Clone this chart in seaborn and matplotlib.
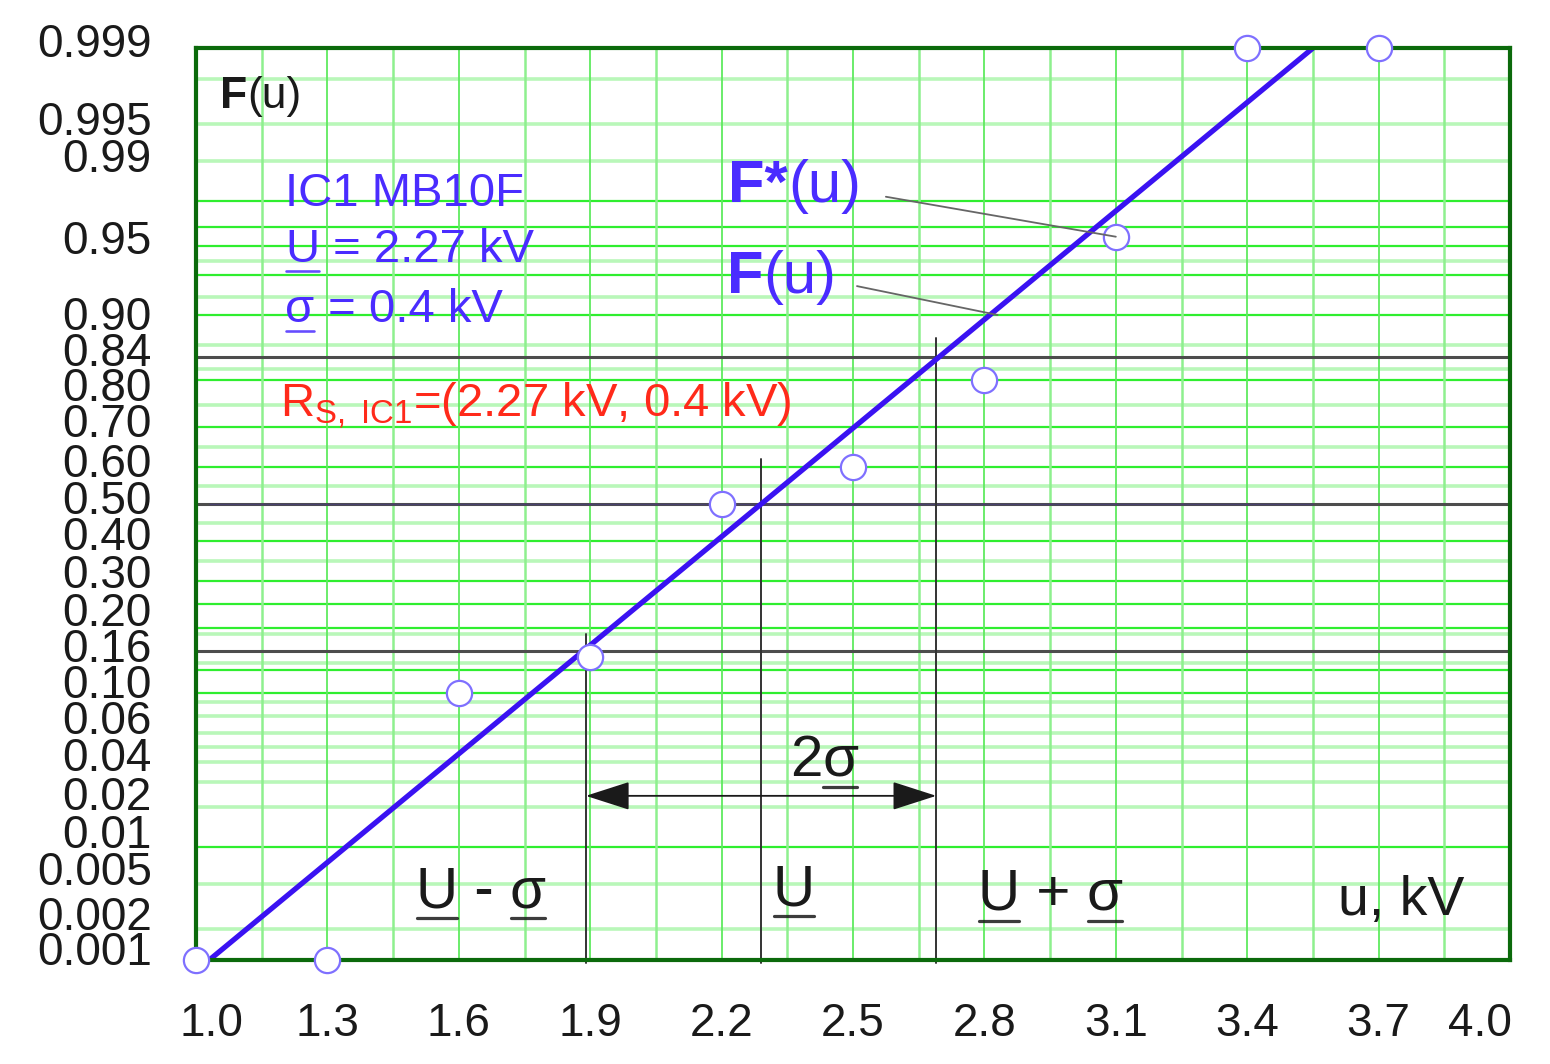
import numpy as np
import pandas as pd
import matplotlib
matplotlib.use("Agg")
import matplotlib.pyplot as plt
import matplotlib.transforms as mtransforms
from matplotlib.lines import Line2D
import seaborn as sns
from statistics import NormalDist

# measured breakdown voltages and empirical distribution F*(u)
u_data = [1.0, 1.3, 1.6, 1.9, 2.2, 2.5, 2.8, 3.1, 3.4, 3.7]
f_star = [0.001, 0.001, 0.10, 0.15, 0.50, 0.60, 0.80, 0.965, 0.999, 0.999]

# fitted normal distribution F(u), straight on probability paper
fit_u = [1.03, 3.55]
fit_p = [0.001, 0.999]

# U - sigma, U, U + sigma markers
mark_u = [1.89, 2.29, 2.69]
mark_top = [0.19, 0.62, 0.87]
ref_p = [0.16, 0.50, 0.84]

x_ticks = [1.0, 1.3, 1.6, 1.9, 2.2, 2.5, 2.8, 3.1, 3.4, 3.7, 4.0]
y_ticks = [0.001, 0.002, 0.005, 0.01, 0.02, 0.04, 0.06, 0.10, 0.16, 0.20, 0.30,
           0.40, 0.50, 0.60, 0.70, 0.80, 0.84, 0.90, 0.95, 0.99, 0.995, 0.999]
y_labels = ["0.001", "0.002", "0.005", "0.01", "0.02", "0.04", "0.06", "0.10",
            "0.16", "0.20", "0.30", "0.40", "0.50", "0.60", "0.70", "0.80",
            "0.84", "0.90", "0.95", "0.99", "0.995", "0.999"]
# the printed sheet stacks its labels a little off the true lines (pixels, + = up)
y_label_lift = [12, 16, 16, 16, 14, 8, 16, 12, 6, 19, 10,
                8, 7, 7, 7, -4, 8, 2, 24, 6, 6, 8]

# probability paper grid
grid_bright = [0.01, 0.10, 0.13, 0.20, 0.25, 0.30, 0.40, 0.60, 0.70, 0.80,
               0.90, 0.94, 0.96, 0.97, 0.98]
grid_pale = [0.002, 0.005, 0.02, 0.03, 0.04, 0.05, 0.06, 0.075, 0.09, 0.14,
             0.19, 0.35, 0.45, 0.55, 0.65, 0.75, 0.82, 0.86, 0.92, 0.95,
             0.99, 0.995, 0.998]
grid_u = np.arange(1.0, 4.001, 0.15)

_nd = NormalDist()


def probit(p):
    p = np.asarray(p, dtype=float)
    p = np.where(np.isfinite(p), p, 0.5)
    p = np.clip(p, 1e-9, 1 - 1e-9)
    return np.vectorize(_nd.inv_cdf, otypes=[float])(p)


def probit_inv(z):
    z = np.asarray(z, dtype=float)
    z = np.where(np.isfinite(z), z, 0.0)
    return np.vectorize(_nd.cdf, otypes=[float])(z)


sns.set_style("white")
plt.rcParams["font.family"] = ["Liberation Sans", "DejaVu Sans"]
plt.rcParams["mathtext.fontset"] = "custom"
plt.rcParams["mathtext.rm"] = "Liberation Sans"
plt.rcParams["mathtext.it"] = "Liberation Sans:italic"
plt.rcParams["mathtext.bf"] = "Liberation Sans:bold"

fig = plt.figure(figsize=(15.5, 10.64), dpi=100)
ax = fig.add_axes([0.1265, 0.0977, 0.8477, 0.8571])
ax.set_yscale("function", functions=(probit, probit_inv))
ax.set_xlim(1.0, 4.0)
ax.set_ylim(0.001, 0.999)

for p in grid_pale:
    ax.axhline(p, color="#b9f7b9", lw=2.6, zorder=0.5)
for p in grid_bright:
    ax.axhline(p, color="#2fee2f", lw=1.6, zorder=0.6)
for i, u in enumerate(grid_u):
    ax.axvline(u, color="#5fea5f" if i % 2 == 0 else "#8ef08e",
               lw=1.3 if i % 2 == 0 else 1.8, zorder=0.6)

for p in ref_p:
    ax.axhline(p, color="#4d4d4d", lw=2.2, zorder=1)
for u, top in zip(mark_u, mark_top):
    ax.plot([u, u], [0.00093, top], color="#333333", lw=1.4, zorder=1.5,
            clip_on=False)

fit = pd.DataFrame({"u": fit_u, "F": fit_p})
sns.lineplot(data=fit, x="u", y="F", ax=ax, color="#3a12f2", lw=3.8, zorder=3)

pts = pd.DataFrame({"u": u_data, "F": f_star})
sns.scatterplot(data=pts, x="u", y="F", ax=ax, s=330, marker="o",
                facecolor="white", edgecolor="#7f70ff", linewidth=1.6,
                zorder=4, clip_on=False)

# 2 sigma arrow
ax.annotate("", xy=(mark_u[2], 0.024), xytext=(mark_u[0], 0.024),
            arrowprops=dict(arrowstyle="<|-|>,head_length=1.4,head_width=0.45",
                            color="#1a1a1a", lw=1.3, mutation_scale=20,
                            shrinkA=0, shrinkB=0), zorder=5)

# leader lines for F*(u) and F(u)
ax.annotate("", xy=(3.1, 0.965), xytext=(0.525, 0.837), textcoords="axes fraction",
            arrowprops=dict(arrowstyle="-", color="#666666", lw=1.3,
                            shrinkA=0, shrinkB=0), zorder=5)
ax.annotate("", xy=(2.83, 0.90), xytext=(0.503, 0.739), textcoords="axes fraction",
            arrowprops=dict(arrowstyle="-", color="#666666", lw=1.3,
                            shrinkA=0, shrinkB=0), zorder=5)

renderer = fig.canvas.get_renderer()
ident = mtransforms.IdentityTransform()


def put_text(x, y, parts, size, color):
    # parts: (text, underlined, bold) pieces written one after another on a baseline
    px, py = ax.transAxes.transform((x, y))
    for s, ul, bold in parts:
        t = ax.text(px, py, s, transform=ident, fontsize=size, color=color,
                    fontweight="bold" if bold else "normal",
                    va="baseline", ha="left", zorder=6)
        bb = t.get_window_extent(renderer)
        if ul:
            off = size * 0.26
            ax.add_artist(Line2D([bb.x0 + 1, bb.x1 - 1], [py - off, py - off],
                                 transform=ident, color=color, lw=size * 0.055,
                                 alpha=0.85, zorder=6))
        px = bb.x1


blue = "#4a2cff"
dark = "#1a1a1a"
put_text(0.018, 0.934, [("F", False, True), ("(u)", False, False)], 32, dark)
put_text(0.068, 0.827, [("IC1 MB10F", False, False)], 34, blue)
put_text(0.068, 0.765, [("U", True, False), (" = 2.27 kV", False, False)], 34, blue)
put_text(0.068, 0.700, [("σ", True, False), (" = 0.4 kV", False, False)], 34, blue)
put_text(0.064, 0.595, [(r"R$_{\mathrm{S,\ IC1}}$=(2.27 kV, 0.4 kV)", False, False)],
         34, "#ff2a1a")
put_text(0.405, 0.831, [("F*", False, True), ("(u)", False, False)], 43, blue)
put_text(0.404, 0.731, [("F", False, True), ("(u)", False, False)], 43, blue)
put_text(0.452, 0.202, [("2", False, False), ("σ", True, False)], 42, dark)
put_text(0.167, 0.058, [("U", True, False), (" - ", False, False),
                        ("σ", True, False)], 42, dark)
put_text(0.439, 0.060, [("U", True, False)], 42, dark)
put_text(0.595, 0.055, [("U", True, False), (" + ", False, False),
                        ("σ", True, False)], 42, dark)
put_text(0.869, 0.049, [("u, kV", False, False)], 40, dark)

ax.set_xticks(x_ticks)
ax.set_xticklabels([f"{v:.1f}" for v in x_ticks])
ax.set_yticks(y_ticks)
ax.set_yticklabels(y_labels)
ax.yaxis.set_minor_locator(matplotlib.ticker.NullLocator())
ax.tick_params(axis="x", length=0, pad=30, labelsize=33, labelcolor=dark)
ax.tick_params(axis="y", length=0, pad=32, labelsize=33, labelcolor=dark)
ax.set_xlabel("")
ax.set_ylabel("")

# nudge the end labels inward as in the original sheet
xl = ax.get_xticklabels()
xl[0].set_transform(xl[0].get_transform() +
                    mtransforms.ScaledTranslation(0.15, 0, fig.dpi_scale_trans))
xl[-1].set_transform(xl[-1].get_transform() +
                     mtransforms.ScaledTranslation(-0.3, 0, fig.dpi_scale_trans))
for lab, lift in zip(ax.get_yticklabels(), y_label_lift):
    lab.set_transform(lab.get_transform() +
                      mtransforms.ScaledTranslation(0, lift / 100, fig.dpi_scale_trans))

for s in ax.spines.values():
    s.set_visible(True)
    s.set_color("#0b6a0b")
    s.set_linewidth(3.0)
    s.set_zorder(3.5)

plt.savefig("out.png", dpi=100)
